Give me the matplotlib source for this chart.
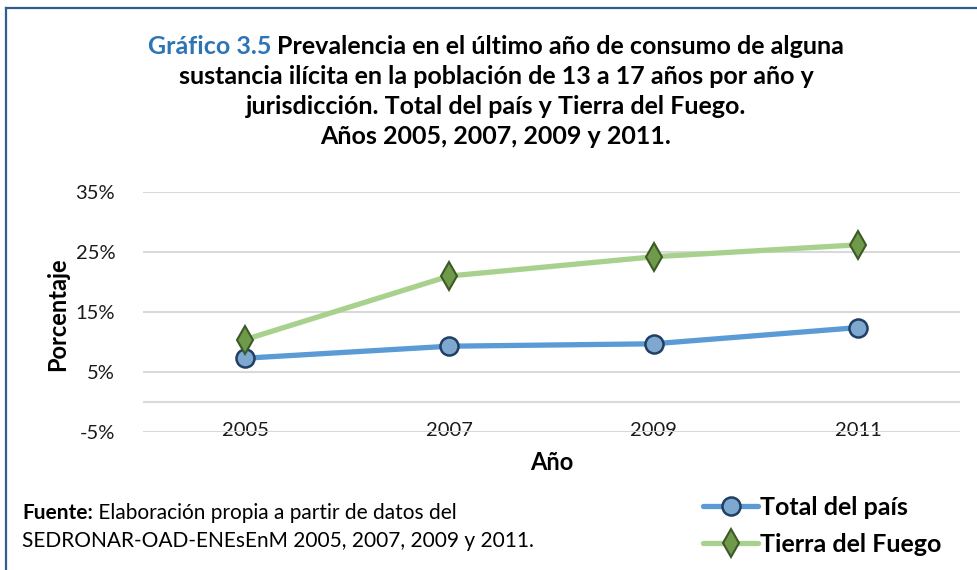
import matplotlib
matplotlib.use("Agg")
import matplotlib.pyplot as plt
from matplotlib.lines import Line2D
from matplotlib.ticker import FuncFormatter

plt.rcParams['font.family'] = ['Lato', 'DejaVu Sans']

# datos
anios = ['2005', '2007', '2009', '2011']
total_pais = [7.3, 9.3, 9.7, 12.4]
tierra_fuego = [10.4, 21.0, 24.2, 26.2]
yticks = [-5, 5, 15, 25, 35]

W, H = 977, 570
fig = plt.figure(figsize=(W / 100, H / 100), dpi=100)
fig.patch.set_facecolor('white')

# marco azul (izquierda y arriba)
frame_col = '#2F5D8C'
fig.add_artist(Line2D([6 / W, 6 / W], [0, 1 - 8 / H], transform=fig.transFigure,
                      color=frame_col, lw=1.6))
fig.add_artist(Line2D([6 / W, 1], [1 - 8 / H, 1 - 8 / H], transform=fig.transFigure,
                      color=frame_col, lw=1.6))

ax = fig.add_axes([143 / W, 1 - 432 / H, (960 - 143) / W, (432 - 192) / H])
x = list(range(len(anios)))

ax.plot(x, total_pais, color='#5B9BD5', lw=3.8, solid_capstyle='round',
        marker='o', markersize=13, markerfacecolor='#7FA8D1',
        markeredgecolor='#203F63', markeredgewidth=1.8, zorder=3,
        label='Total del país')
ax.plot(x, tierra_fuego, color='#A9D18E', lw=3.8, solid_capstyle='round',
        marker='d', markersize=14, markerfacecolor='#6F9A4A',
        markeredgecolor='#3B5A25', markeredgewidth=1.5, zorder=3,
        label='Tierra del Fuego')

ax.set_xlim(-0.5, len(anios) - 0.5)
ax.set_ylim(-5, 35)
ax.set_yticks(yticks)
ax.yaxis.set_major_formatter(FuncFormatter(lambda v, p: '%d%%' % v))
ax.grid(axis='y', color='#D9D9D9', lw=1.5)
ax.axhline(0, color='#D9D9D9', lw=1.5, zorder=1)
ax.set_axisbelow(True)
for s in ax.spines.values():
    s.set_visible(False)
ax.set_xticks(x)
ax.set_xticklabels(anios)
ax.tick_params(axis='both', length=0, labelsize=14.5, colors='#1a1a1a')
ax.tick_params(axis='x', pad=-7)
ax.tick_params(axis='y', pad=20)

fig.text(58 / W, 1 - 314 / H, 'Porcentaje', rotation=90, ha='center', va='center',
         fontsize=17, fontweight='bold')
fig.text(552 / W, 1 - 462 / H, 'Año', ha='center', va='center',
         fontsize=17, fontweight='bold')

# título
title_kw = dict(fontsize=18, fontweight='bold', va='center')
blue_part = 'Gráfico 3.5 '
rest1 = 'Prevalencia en el último año de consumo de alguna'
renderer = fig.canvas.get_renderer()
full = fig.text(496 / W, 1 - 46 / H, blue_part + rest1, ha='center', alpha=0, **title_kw)
bb = full.get_window_extent(renderer)
tb = fig.text(bb.x0 / W, 1 - 46 / H, blue_part, ha='left', color='#2E75B6', **title_kw)
bw = tb.get_window_extent(renderer)
fig.text(bb.x0 / W + bw.width / W, 1 - 46 / H, rest1, ha='left', color='black', **title_kw)
otras = ['sustancia ilícita en la población de 13 a 17 años por año y',
         'jurisdicción. Total del país y Tierra del Fuego.',
         'Años 2005, 2007, 2009 y 2011.']
for yy, t in zip([77, 107, 137], otras):
    fig.text(496 / W, 1 - yy / H, t, ha='center', color='black', **title_kw)

# fuente
fx = fig.text(22 / W, 1 - 513 / H, 'Fuente:', fontsize=15, fontweight='bold', va='center')
fxw = fx.get_window_extent(renderer)
fig.text(22 / W + fxw.width / W, 1 - 513 / H, ' Elaboración propia a partir de datos del',
         fontsize=15, va='center')
fig.text(22 / W, 1 - 541 / H, 'SEDRONAR-OAD-ENEsEnM 2005, 2007, 2009 y 2011.',
         fontsize=15, va='center')

leg = fig.legend(loc='center left', bbox_to_anchor=(703 / W, 1 - 526 / H),
                 frameon=False, prop={'size': 18, 'weight': 'bold'},
                 handlelength=2.2, handletextpad=0.1, labelspacing=0.55,
                 borderpad=0, borderaxespad=0)

fig.savefig('out.png', dpi=100, facecolor='white')
